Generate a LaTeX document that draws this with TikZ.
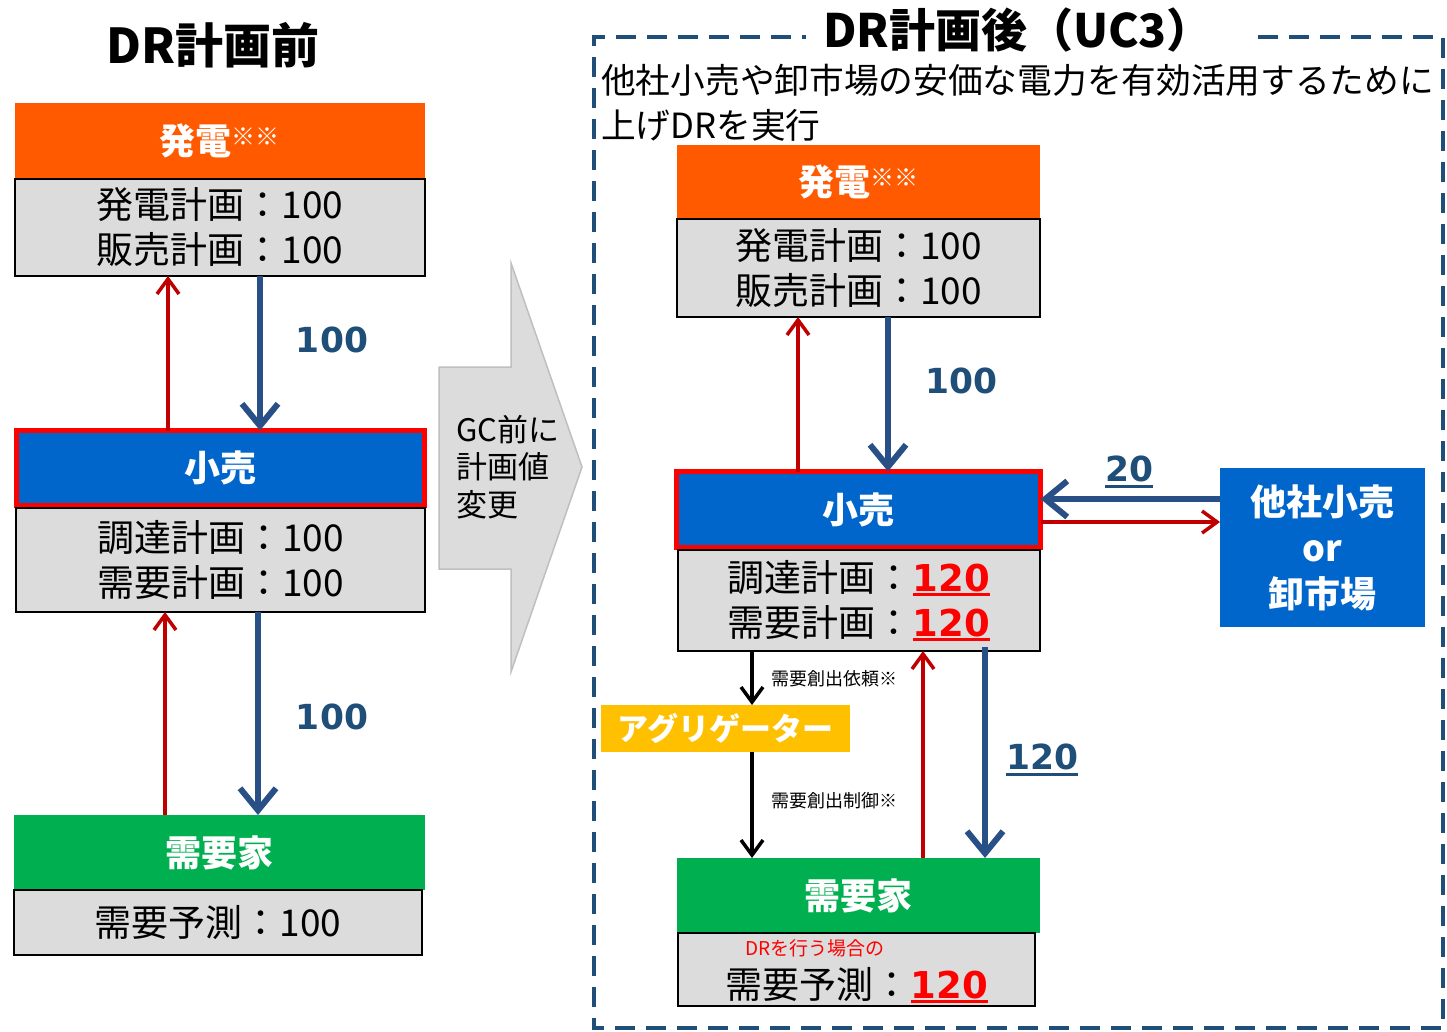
\documentclass[tikz,border=0pt]{standalone}
\usepackage{fontspec}
\setmainfont{Noto Sans CJK JP}
\newfontfamily\numfont{DejaVu Sans}
\usetikzlibrary{arrows.meta}
\definecolor{orng}{HTML}{FF5A00}
\definecolor{bluebox}{HTML}{0066CC}
\definecolor{redborder}{HTML}{FF0000}
\definecolor{greenbox}{HTML}{00B050}
\definecolor{yellowbox}{HTML}{FFC000}
\definecolor{grayf}{HTML}{DCDCDC}
\definecolor{navy}{HTML}{284F86}
\definecolor{navytext}{HTML}{1F4E79}
\definecolor{darkred}{HTML}{C00000}
\definecolor{arrowgray}{HTML}{BFBFBF}
\newcommand{\myul}[2]{\setbox0\hbox{#2}\rlap{\rule[-#1]{\wd0}{2.5pt}}\box0}
\tikzset{
  hdr/.style={inner sep=0pt, outer sep=0pt, text=white, align=center, font=\fontsize{36}{46}\selectfont\bfseries},
  orangebox/.style={hdr, fill=orng},
  bluebx/.style={hdr, fill=bluebox},
  retailbox/.style={hdr, fill=bluebox, draw=redborder, line width=5pt},
  greenbx/.style={hdr, fill=greenbox},
  yellowbx/.style={hdr, fill=yellowbox, font=\fontsize{31}{36}\selectfont\bfseries},
  graybox/.style={fill=grayf, draw=black, line width=1.5pt, inner sep=0pt, outer sep=0pt, align=center, font=\fontsize{37}{45}\selectfont},
  numlbl/.style={text=navytext, font=\numfont\bfseries\fontsize{34.5}{40}\selectfont, inner sep=0pt},
  smalllbl/.style={font=\fontsize{18}{20}\selectfont, anchor=west, inner sep=0pt},
  titlelbl/.style={font=\fontsize{48}{52}\selectfont\bfseries, inner sep=0pt},
  bluearr/.style={draw=navy, line width=6pt, -{Straight Barb[length=22pt,width=36pt]}},
  redarr/.style={draw=darkred, line width=3.5pt, -{Straight Barb[length=15pt,width=22pt]}},
  blackarr/.style={draw=black, line width=3.5pt, -{Straight Barb[length=15pt,width=22pt]}},
  bigarrow/.style={fill=grayf, draw=arrowgray, line width=1.5pt},
  frame/.style={draw=navytext, line width=3.5pt, dash pattern=on 20pt off 11pt},
}
\newcommand{\sups}{\textsuperscript{\fontsize{24}{26}\selectfont\mdseries ※※}}
\newcommand{\rednum}[1]{{\numfont\bfseries\color{red}\myul{4pt}{#1}}}
\begin{document}
\begin{tikzpicture}[x=1pt,y=-1pt]
\useasboundingbox (0,0) rectangle (1447,1031);
\fill[white] (0,0) rectangle (1447,1031);

% ---------- left: before ----------
\node[titlelbl] (title1) at (213,45) {DR計画前};
\node[orangebox, minimum width=410pt, minimum height=76pt] (gen1) at (220,141) {発電\sups};
\node[graybox, minimum width=410pt, minimum height=97pt] (gplan1) at (220,227.5) {発電計画：100\\販売計画：100};
\node[retailbox, minimum width=408pt, minimum height=75pt] (retail1) at (220.5,468) {小売};
\node[graybox, minimum width=409pt, minimum height=104pt] (rplan1) at (220.5,560) {調達計画：100\\需要計画：100};
\node[greenbx, minimum width=411pt, minimum height=75pt] (cons1) at (219.5,852.5) {需要家};
\node[graybox, minimum width=408pt, minimum height=65pt] (fc1) at (218,922.5) {需要予測：100};

\draw[redarr] ([xshift=-52.5pt]retail1.north) -- ([xshift=-52pt]gplan1.south);
\draw[bluearr] ([xshift=40pt]gplan1.south) -- ([xshift=39.5pt]retail1.north);
\node[numlbl] (n1) at (332,340) {100};
\draw[redarr] ([xshift=-54.5pt]cons1.north) -- ([xshift=-55.5pt]rplan1.south);
\draw[bluearr] ([xshift=37.5pt]rplan1.south) -- ([xshift=38.5pt]cons1.north);
\node[numlbl] (n2) at (332,717) {100};

% ---------- middle arrow ----------
\draw[bigarrow] (439,367) -- (511,367) -- (511,263) -- (582,467) -- (511,672) -- (511,569) -- (439,569) -- cycle;
\node[anchor=west, align=left, inner sep=0pt, font=\fontsize{31}{37.5}\selectfont] (gc) at (456,467) {GC前に\\計画値\\変更};

% ---------- right: after ----------
\draw[frame] (1258,37) -- (1443,37) -- (1443,1028) -- (594,1028) -- (594,37) -- (806,37);
\node[titlelbl, font=\fontsize{46}{50}\selectfont\bfseries] (title2) at (1018,30) {DR計画後（UC3）};
\node[anchor=west, align=left, inner sep=0pt, font=\fontsize{34.7}{45}\selectfont] (desc) at (601,102.5) {他社小売や卸市場の安価な電力を有効活用するために\\上げDRを実行};

\node[orangebox, minimum width=363pt, minimum height=74pt] (gen2) at (858.5,182) {発電\sups};
\node[graybox, minimum width=363pt, minimum height=98pt] (gplan2) at (858.5,268) {発電計画：100\\販売計画：100};
\node[retailbox, minimum width=364pt, minimum height=76pt] (retail2) at (858.5,509.5) {小売};
\node[graybox, minimum width=362pt, minimum height=101pt] (rplan2) at (859,600.5) {調達計画：\rednum{120}\\需要計画：\rednum{120}};
\node[bluebx, minimum width=205pt, minimum height=159pt] (other) at (1322.5,547.5) {他社小売\\or\\卸市場};
\node[yellowbx, minimum width=249pt, minimum height=47pt] (agg) at (725.5,728.5) {アグリゲーター};
\node[greenbx, minimum width=363pt, minimum height=75pt] (cons2) at (858.5,895.5) {需要家};
\node[graybox, minimum width=357pt, minimum height=73pt] (fc2) at (856.5,969.5) {};
\node[inner sep=0pt, text=red, font=\fontsize{19}{22}\selectfont] (drnote) at (815,948) {DRを行う場合の};
\node[inner sep=0pt, font=\fontsize{37}{45}\selectfont] (fc2txt) at (857,985) {需要予測：\rednum{120}};

\draw[redarr] ([xshift=-60.5pt]retail2.north) -- ([xshift=-60.5pt]gplan2.south);
\draw[bluearr] ([xshift=29.5pt]gplan2.south) -- ([xshift=29.5pt]retail2.north);
\node[numlbl] (n3) at (961,381) {100};

\draw[bluearr] (other.west |- 0,499) -- (retail2.east |- 0,499);
\node[numlbl] (n4) at (1129,472) {\myul{6pt}{20}};
\draw[redarr] (retail2.east |- 0,522) -- (other.west |- 0,522);

\draw[blackarr] ([xshift=-107pt]rplan2.south) -- ([xshift=26.5pt]agg.north);
\node[smalllbl] (req) at (771,679) {需要創出依頼※};
\draw[blackarr] ([xshift=26.5pt]agg.south) -- ([xshift=-106.5pt]cons2.north);
\node[smalllbl] (ctl) at (771,801) {需要創出制御※};

\draw[redarr] ([xshift=64.5pt]cons2.north) -- ([xshift=64pt]rplan2.south);
\draw[bluearr] ([xshift=126pt,yshift=4pt]rplan2.south) -- ([xshift=126.5pt]cons2.north);
\node[numlbl] (n5) at (1042,760) {\myul{6pt}{120}};
\end{tikzpicture}
\end{document}
